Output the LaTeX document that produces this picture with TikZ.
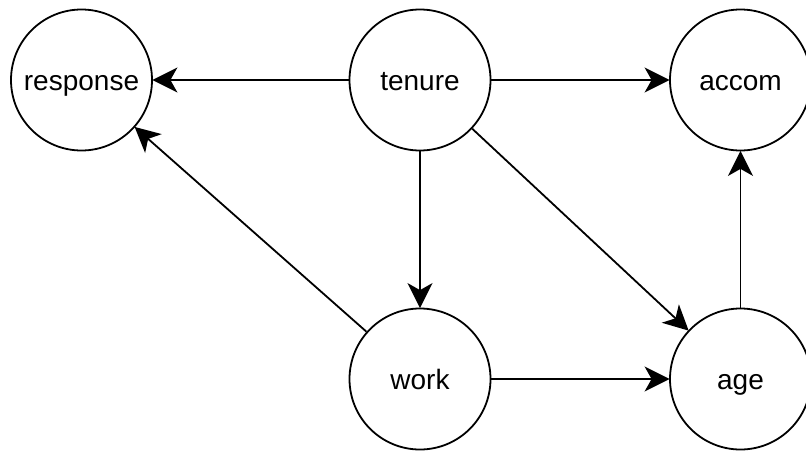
\documentclass[tikz,border=0pt]{standalone}
\usepackage{fontspec}
\setmainfont{Liberation Sans}
\usetikzlibrary{arrows.meta}
\begin{document}
\begin{tikzpicture}[x=1pt,y=-1pt,
  var/.style={circle,draw,line width=1.8pt,minimum size=141pt,inner sep=0pt,
    text height=20.6pt,text depth=0pt,font=\fontsize{28}{32}\selectfont},
  edge/.style={line width=1.8pt,-{Stealth[length=25pt,width=25pt,inset=7pt]},shorten >=-0.5pt}]
\useasboundingbox (0,0) rectangle (806,450);
\node[var] (response) at (81.5,80) {response};
\node[var] (tenure) at (420,80) {tenure};
\node[var] (accom) at (740.5,80) {accom};
\node[var] (work) at (420,379) {work};
\node[var] (age) at (740.5,379) {age};
\draw[edge] (tenure) -- (response);
\draw[edge] (tenure) -- (accom);
\draw[edge] (tenure) -- (work);
\draw[edge] (tenure) -- (age);
\draw[edge] (work) -- (response);
\draw[edge] (work) -- (age);
\draw[edge] (age) -- (accom);
\end{tikzpicture}
\end{document}
